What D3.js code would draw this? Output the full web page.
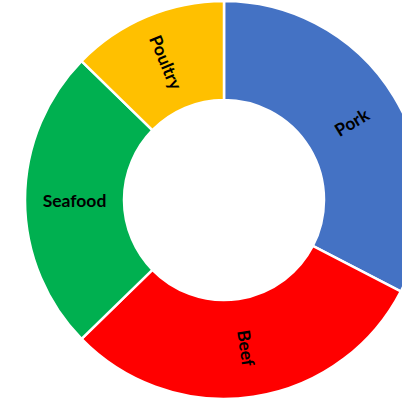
<!DOCTYPE html>
<html>
<head>
<meta charset="utf-8">
<script src="https://cdn.jsdelivr.net/npm/d3@7"></script>
<style>
  html, body { margin: 0; padding: 0; background: #fff; overflow: hidden; }
  svg { display: block; }
</style>
</head>
<body>
<svg id="chart" width="402" height="400"></svg>
<script>
const categories = ["Pork", "Beef", "Seafood", "Poultry"];
const values = [32.6, 30.1, 24.6, 12.7];
const colors = ["#4472C4", "#FF0000", "#00B050", "#FFC000"];

const svg = d3.select("#chart");
const cx = 224, cy = 200;
const outerR = 199, innerR = 100;

const data = categories.map((c, i) => ({ name: c, value: values[i], color: colors[i] }));
const pie = d3.pie().value(d => d.value).sort(null);
const arc = d3.arc().innerRadius(innerR).outerRadius(outerR);

const g = svg.append("g").attr("transform", `translate(${cx},${cy})`);
const arcs = pie(data);

g.selectAll("path").data(arcs).enter().append("path")
  .attr("d", arc)
  .attr("fill", d => d.data.color)
  .attr("stroke", "#fff")
  .attr("stroke-width", 2.5)
  .attr("stroke-linejoin", "miter");

const labelR = (innerR + outerR) / 2;
g.selectAll("text").data(arcs).enter().append("text")
  .attr("transform", d => {
    const a = (d.startAngle + d.endAngle) / 2;
    const x = labelR * Math.sin(a), y = -labelR * Math.cos(a);
    let rot = a * 180 / Math.PI - 90;
    if (rot > 90) rot -= 180;
    if (rot < -90) rot += 180;
    return `translate(${x},${y}) rotate(${rot})`;
  })
  .attr("text-anchor", "middle")
  .attr("dominant-baseline", "central")
  .attr("font-family", "Lato, 'Liberation Sans', sans-serif")
  .attr("font-weight", "bold")
  .attr("font-size", 17.5)
  .attr("fill", "#000")
  .text(d => d.data.name);
</script>
</body>
</html>
